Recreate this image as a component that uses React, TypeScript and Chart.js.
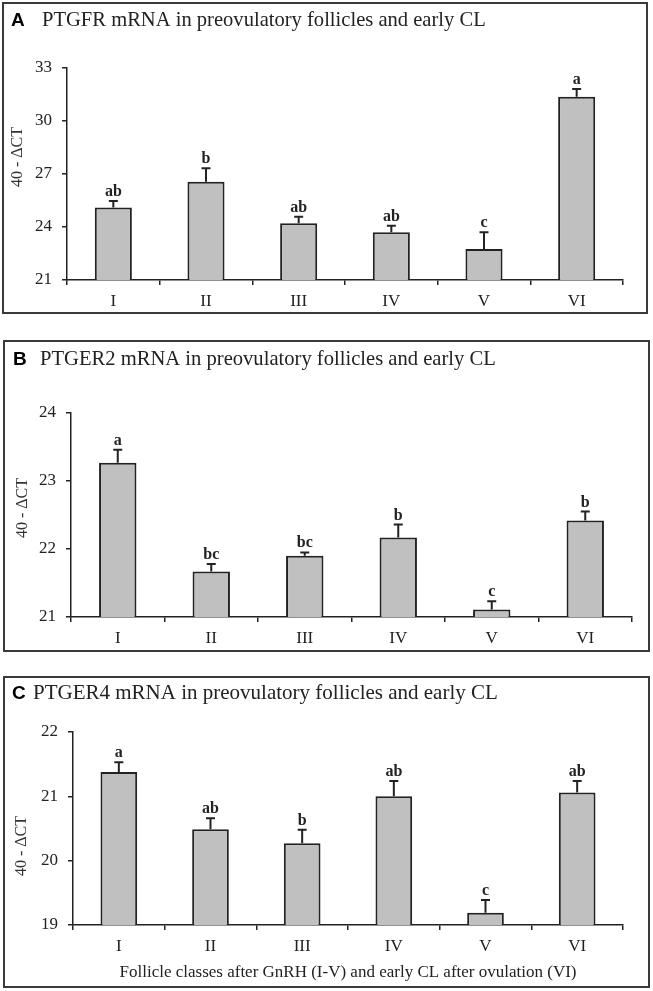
import React, { useEffect, useRef } from 'react';
import { Chart, registerables } from 'chart.js';

Chart.register(...registerables);

// ---- Data ----
const categories = ['I', 'II', 'III', 'IV', 'V', 'VI'];

const ptgfrValues = [25.1, 26.56, 24.21, 23.7, 22.75, 31.37];
const ptgfrErrors = [0.37, 0.76, 0.37, 0.37, 0.95, 0.44];
const ptgfrLetters = ['ab', 'b', 'ab', 'ab', 'c', 'a'];

const ptger2Values = [23.27, 21.67, 21.9, 22.17, 21.11, 22.42];
const ptger2Errors = [0.19, 0.11, 0.05, 0.19, 0.12, 0.13];
const ptger2Letters = ['a', 'bc', 'bc', 'b', 'c', 'b'];

const ptger4Values = [21.38, 20.49, 20.27, 21.0, 19.19, 21.06];
const ptger4Errors = [0.15, 0.17, 0.21, 0.24, 0.2, 0.18];
const ptger4Letters = ['a', 'ab', 'b', 'ab', 'c', 'ab'];

const yTitle = '40 - \u0394CT';
const xTitle = 'Follicle classes after GnRH (I-V) and early CL after ovulation (VI)';
const titleA = 'PTGFR mRNA in preovulatory follicles and early CL';
const titleB = 'PTGER2 mRNA in preovulatory follicles and early CL';
const titleC = 'PTGER4 mRNA in preovulatory follicles and early CL';

// ---- Layout per panel ----
const panels = [
  {
    key: 'A', values: ptgfrValues, errors: ptgfrErrors, letters: ptgfrLetters, title: titleA,
    top: 0, height: 316, border: [3, 3, 647, 313],
    area: { left: 67, right: 623, top: 68, bottom: 280 },
    min: 21, max: 33, step: 3,
    letterX: 11, textX: 42, textW: 444, titleY: 26, yTitleX: 18, yTitleY: 157, showX: false,
  },
  {
    key: 'B', values: ptger2Values, errors: ptger2Errors, letters: ptger2Letters, title: titleB,
    top: 330, height: 326, border: [4, 11, 649, 321],
    area: { left: 71, right: 632, top: 83, bottom: 287 },
    min: 21, max: 24, step: 1,
    letterX: 13, textX: 40, textW: 456, titleY: 35, yTitleX: 23, yTitleY: 178, showX: false,
  },
  {
    key: 'C', values: ptger4Values, errors: ptger4Errors, letters: ptger4Letters, title: titleC,
    top: 665, height: 326, border: [4, 12, 649, 322],
    area: { left: 73, right: 623, top: 67, bottom: 260 },
    min: 19, max: 22, step: 1,
    letterX: 12, textX: 33, textW: 465, titleY: 34, yTitleX: 22, yTitleY: 181, showX: true,
  },
];

const SERIF = '"Liberation Serif", "Times New Roman", serif';
const SANS = '"Liberation Sans", Arial, sans-serif';
const INK = '#222222';

function Panel({ cfg }: { cfg: any }) {
  const ref = useRef<HTMLCanvasElement>(null);

  useEffect(() => {
    const canvas = ref.current;
    if (!canvas) return;
    const W = 653;
    const H = cfg.height;

    const decorPlugin = {
      id: 'decor' + cfg.key,
      afterDraw(chart: any) {
        const ctx = chart.ctx;
        ctx.save();
        // panel border
        const [x1, y1, x2, y2] = cfg.border;
        ctx.strokeStyle = '#3a3a3a';
        ctx.lineWidth = 2;
        ctx.strokeRect(x1, y1, x2 - x1, y2 - y1);

        // panel letter
        ctx.fillStyle = '#000';
        ctx.textBaseline = 'alphabetic';
        ctx.textAlign = 'left';
        ctx.font = `bold 19px ${SANS}`;
        ctx.fillText(cfg.key, cfg.letterX, cfg.titleY);

        // title text, fitted to width
        ctx.fillStyle = INK;
        ctx.font = `20px ${SERIF}`;
        const w = ctx.measureText(cfg.title).width;
        const size = (20 * cfg.textW) / w;
        ctx.font = `${size.toFixed(2)}px ${SERIF}`;
        ctx.fillText(cfg.title, cfg.textX, cfg.titleY);

        // y-axis title
        ctx.save();
        ctx.translate(cfg.yTitleX, cfg.yTitleY);
        ctx.rotate(-Math.PI / 2);
        ctx.textAlign = 'center';
        ctx.textBaseline = 'middle';
        ctx.fillStyle = '#333';
        ctx.font = `16px ${SERIF}`;
        ctx.fillText(yTitle, 0, 0);
        ctx.restore();

        // error bars + letters
        const meta = chart.getDatasetMeta(0);
        const yScale = chart.scales.y;
        const ds = chart.data.datasets[0];
        ctx.strokeStyle = INK;
        ctx.lineWidth = 2;
        meta.data.forEach((bar: any, i: number) => {
          const v = ds.data[i];
          const e = ds.errors[i];
          const yE = yScale.getPixelForValue(v + e);
          ctx.beginPath();
          ctx.moveTo(bar.x, bar.y);
          ctx.lineTo(bar.x, yE);
          ctx.moveTo(bar.x - 4.5, yE);
          ctx.lineTo(bar.x + 4.5, yE);
          ctx.stroke();
          ctx.fillStyle = INK;
          ctx.font = `bold 16px ${SERIF}`;
          ctx.textAlign = 'center';
          ctx.textBaseline = 'alphabetic';
          ctx.fillText(ds.letters[i], bar.x, yE - 5);
        });
        ctx.restore();
      },
    };

    const chart = new Chart(canvas, {
      type: 'bar',
      data: {
        labels: categories,
        datasets: [
          {
            data: cfg.values,
            errors: cfg.errors,
            letters: cfg.letters,
            backgroundColor: '#c0c0c0',
            borderColor: INK,
            borderWidth: 2,
            barPercentage: 0.4,
            categoryPercentage: 1,
          } as any,
        ],
      },
      options: {
        responsive: false,
        animation: false,
        devicePixelRatio: 1,
        layout: {
          padding: { left: 0, top: cfg.area.top, right: W - cfg.area.right, bottom: 0 },
        },
        plugins: {
          legend: { display: false },
          tooltip: { enabled: false },
          title: { display: false },
        },
        scales: {
          x: {
            type: 'category',
            offset: true,
            grid: {
              display: true,
              offset: true,
              drawOnChartArea: false,
              drawTicks: true,
              tickLength: 5,
              color: INK,
              lineWidth: 1.5,
            },
            border: { display: true, color: INK, width: 1.5 },
            ticks: {
              color: INK,
              font: { family: SERIF, size: 17 },
              padding: 6,
              autoSkip: false,
              maxRotation: 0,
            },
            title: {
              display: cfg.showX,
              text: xTitle,
              color: INK,
              font: { family: SERIF, size: 17 },
              padding: { top: 4, bottom: 8 },
            },
            afterFit: (scale: any) => {
              scale.height = H - cfg.area.bottom;
            },
          },
          y: {
            type: 'linear',
            min: cfg.min,
            max: cfg.max,
            grid: {
              display: true,
              drawOnChartArea: false,
              drawTicks: true,
              tickLength: 5,
              color: INK,
              lineWidth: 1.5,
            },
            border: { display: true, color: INK, width: 1.5 },
            ticks: {
              stepSize: cfg.step,
              color: INK,
              font: { family: SERIF, size: 17 },
              padding: 10,
            },
            afterFit: (scale: any) => {
              scale.width = cfg.area.left;
            },
          },
        },
      },
      plugins: [decorPlugin],
    });

    return () => chart.destroy();
  }, [cfg]);

  return (
    <canvas
      ref={ref}
      width={653}
      height={cfg.height}
      style={{ position: 'absolute', left: 0, top: cfg.top, width: 653, height: cfg.height }}
    />
  );
}

export default function App() {
  return (
    <div style={{ position: 'absolute', left: 0, top: 0, width: 653, height: 991, background: '#fff' }}>
      {panels.map((p) => (
        <Panel key={p.key} cfg={p} />
      ))}
    </div>
  );
}
